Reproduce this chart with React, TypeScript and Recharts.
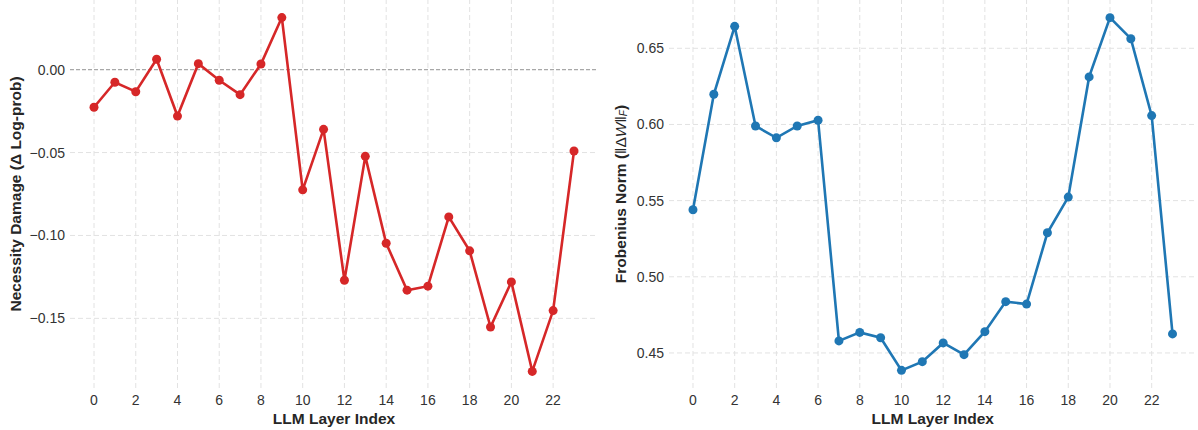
import {
  LineChart,
  Line,
  XAxis,
  YAxis,
  ReferenceLine,
  Label
} from "recharts"

// layer index on the x axis
const layers = [0, 1, 2, 3, 4, 5, 6, 7, 8, 9, 10, 11, 12, 13, 14, 15, 16, 17, 18, 19, 20, 21, 22, 23]

// left panel: necessity damage (delta log-prob)
const damage = [
  -0.0227, -0.0076, -0.0133, 0.0063, -0.028, 0.0036, -0.0064, -0.0151,
  0.0034, 0.0314, -0.0725, -0.036, -0.127, -0.0523, -0.1047, -0.133,
  -0.1306, -0.0888, -0.1093, -0.1552, -0.128, -0.182, -0.1453, -0.0491
]

// right panel: frobenius norm of delta W
const frobNorm = [
  0.544, 0.6198, 0.6644, 0.599, 0.5912, 0.599, 0.6028, 0.4579,
  0.4635, 0.46, 0.4386, 0.4443, 0.4566, 0.4489, 0.464, 0.4837,
  0.4821, 0.5289, 0.5523, 0.6312, 0.6701, 0.6563, 0.6058, 0.4625
]

const xTicks = [0, 2, 4, 6, 8, 10, 12, 14, 16, 18, 20, 22]
const damageTicks = [-0.15, -0.1, -0.05, 0]
const normTicks = [0.45, 0.5, 0.55, 0.6, 0.65]

const rows = layers.map((l, i) => ({ layer: l, damage: damage[i], norm: frobNorm[i] }))

const FONT = "'Liberation Sans', Arial, sans-serif"
const tickStyle = { fontSize: 14, fill: "#333", fontFamily: FONT }
const labelStyle = { fontSize: 15.5, fontWeight: "bold", fill: "#262626", fontFamily: FONT }
const GRID = "#e2e2e2"
const fmt = (v: number) => (v < 0 ? "\u2212" + Math.abs(v).toFixed(2) : v.toFixed(2))

function LeftYLabel(props: any) {
  const vb = props.viewBox || {}
  const cx = 15
  const cy = (vb.y || 0) + (vb.height || 0) / 2
  return (
    <text
      x={cx}
      y={cy}
      transform={`rotate(-90 ${cx} ${cy})`}
      textAnchor="middle"
      dominantBaseline="central"
      fontSize={15.5}
      fontWeight="bold"
      fill="#262626"
      fontFamily={FONT}
    >
      Necessity Damage (Δ Log-prob)
    </text>
  )
}

function RightYLabel(props: any) {
  const vb = props.viewBox || {}
  const cx = 20
  const cy = (vb.y || 0) + (vb.height || 0) / 2
  return (
    <text
      x={cx}
      y={cy}
      transform={`rotate(-90 ${cx} ${cy})`}
      textAnchor="middle"
      dominantBaseline="central"
      fontSize={15.5}
      fontWeight="bold"
      fill="#262626"
      fontFamily={FONT}
    >
      Frobenius Norm (
      <tspan fontWeight="normal">‖Δ</tspan>
      <tspan fontWeight="normal" fontStyle="italic">W</tspan>
      <tspan fontWeight="normal">‖</tspan>
      <tspan fontWeight="normal" fontStyle="italic" fontSize={10} dy={3}>F</tspan>
      <tspan dy={-3}>)</tspan>
    </text>
  )
}

export default function App() {
  return (
    <div style={{ position: "absolute", left: 0, top: 0, width: 1198, height: 430, background: "#fff", display: "flex" }}>

      {/* left panel */}
      <LineChart width={600} height={430} data={rows} margin={{ top: 0, right: 2, bottom: 0, left: 0 }}>
        <XAxis
          dataKey="layer"
          type="number"
          domain={[-1.15, 24.15]}
          ticks={xTicks}
          axisLine={false}
          tickLine={false}
          tickSize={5}
          tickMargin={2}
          height={42}
          tick={tickStyle}
        >
          <Label value="LLM Layer Index" position="insideBottom" offset={6} style={labelStyle} />
        </XAxis>
        <YAxis
          type="number"
          domain={[-0.192, 0.042]}
          ticks={damageTicks}
          tickFormatter={fmt}
          axisLine={false}
          tickLine={false}
          tickSize={3}
          tickMargin={2}
          width={70}
          tick={tickStyle}
          label={<LeftYLabel />}
        />
        {xTicks.map(t => (
          <ReferenceLine key={"vx" + t} x={t} stroke={GRID} strokeDasharray="5 3" />
        ))}
        {damageTicks.filter(t => t !== 0).map(t => (
          <ReferenceLine key={"hy" + t} y={t} stroke={GRID} strokeDasharray="5 3" />
        ))}
        <ReferenceLine y={0} stroke="#a8a8a8" strokeWidth={1.3} strokeDasharray="4 2" />
        <Line
          dataKey="damage"
          stroke="#d62728"
          strokeWidth={2.6}
          dot={{ r: 4.5, fill: "#d62728", stroke: "#d62728", strokeWidth: 0 }}
          isAnimationActive={false}
        />
      </LineChart>

      {/* right panel */}
      <LineChart width={598} height={430} data={rows} margin={{ top: 0, right: 1.5, bottom: 0, left: 0 }}>
        <XAxis
          dataKey="layer"
          type="number"
          domain={[-1.15, 24.15]}
          ticks={xTicks}
          axisLine={false}
          tickLine={false}
          tickSize={5}
          tickMargin={2}
          height={42}
          tick={tickStyle}
        >
          <Label value="LLM Layer Index" position="insideBottom" offset={6} style={labelStyle} />
        </XAxis>
        <YAxis
          type="number"
          domain={[0.427, 0.6817]}
          ticks={normTicks}
          tickFormatter={fmt}
          axisLine={false}
          tickLine={false}
          tickSize={3}
          tickMargin={2}
          width={69}
          tick={tickStyle}
          label={<RightYLabel />}
        />
        {xTicks.map(t => (
          <ReferenceLine key={"vx" + t} x={t} stroke={GRID} strokeDasharray="5 3" />
        ))}
        {normTicks.map(t => (
          <ReferenceLine key={"hy" + t} y={t} stroke={GRID} strokeDasharray="5 3" />
        ))}
        <Line
          dataKey="norm"
          stroke="#1f77b4"
          strokeWidth={2.6}
          dot={{ r: 4.5, fill: "#1f77b4", stroke: "#1f77b4", strokeWidth: 0 }}
          isAnimationActive={false}
        />
      </LineChart>

    </div>
  )
}
